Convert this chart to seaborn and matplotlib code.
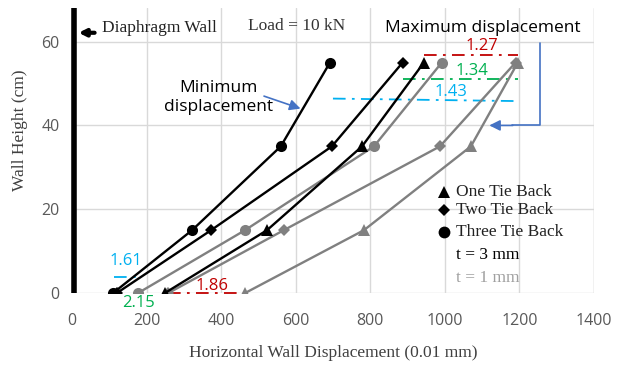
import matplotlib
matplotlib.use("Agg")
import matplotlib.pyplot as plt
import seaborn as sns
import pandas as pd

# Wall height levels (cm) shared by every series
heights = [0, 15, 35, 55]

# Horizontal displacement (0.01 mm), stiffer wall t = 3 mm
one_tie_t3 = [249, 523, 778, 944]
two_tie_t3 = [120, 373, 697, 887]
three_tie_t3 = [110, 322, 560, 692]

# Horizontal displacement (0.01 mm), thinner wall t = 1 mm
one_tie_t1 = [464, 783, 1070, 1196]
two_tie_t1 = [258, 568, 987, 1190]
three_tie_t1 = [177, 464, 810, 992]

legend_labels = ["One Tie Back", "Two Tie Back", "Three Tie Back"]
ratio_top = ["1.27", "1.34", "1.43"]
ratio_bottom = ["1.86", "2.15", "1.61"]

x_ticks = [0, 200, 400, 600, 800, 1000, 1200, 1400]
y_ticks = [0, 20, 40, 60]

rows = []
for tie, t3, t1 in zip(legend_labels,
                       [one_tie_t3, two_tie_t3, three_tie_t3],
                       [one_tie_t1, two_tie_t1, three_tie_t1]):
    for xv, yv in zip(t3, heights):
        rows.append({"x": xv, "y": yv, "tie": tie, "t": "t = 3 mm"})
    for xv, yv in zip(t1, heights):
        rows.append({"x": xv, "y": yv, "tie": tie, "t": "t = 1 mm"})
df = pd.DataFrame(rows)

sns.set_theme(style="white")
plt.rcParams["font.family"] = ["Open Sans", "DejaVu Sans"]

fig = plt.figure(figsize=(6.22, 3.65), dpi=100)
ax = fig.add_axes([0.1158, 0.197, 0.839, 0.781])

marker_map = {"One Tie Back": "^", "Two Tie Back": "D", "Three Tie Back": "o"}
size_map = {"One Tie Back": 8, "Two Tie Back": 6, "Three Tie Back": 8}
color_map = {"t = 3 mm": "#000000", "t = 1 mm": "#808080"}

for t in ["t = 1 mm", "t = 3 mm"]:
    for tie in legend_labels:
        sub = df[(df["tie"] == tie) & (df["t"] == t)]
        sns.lineplot(data=sub, x="x", y="y", ax=ax, sort=False, estimator=None,
                     color=color_map[t], marker=marker_map[tie],
                     markersize=size_map[tie], markeredgewidth=0,
                     linewidth=1.7, legend=False, zorder=3)

ax.set_xlim(0, 1400)
ax.set_ylim(0, 68)
ax.set_xticks(x_ticks)
ax.set_yticks(y_ticks)
ax.grid(True, color="#D9D9D9", linewidth=1.0)
ax.set_axisbelow(True)
for s in ax.spines.values():
    s.set_visible(False)
ax.axvline(1400, color="#D9D9D9", linewidth=1.0, zorder=0)
ax.tick_params(axis="x", length=0, labelsize=11.5, labelcolor="#595959", pad=14)
ax.tick_params(axis="y", length=0, labelsize=11.5, labelcolor="#595959", pad=9)

serif = ["Liberation Serif", "DejaVu Serif"]
ax.set_xlabel("Horizontal Wall Displacement (0.01 mm)", fontfamily=serif,
              fontsize=12.5, color="#404040", labelpad=12)
ax.set_ylabel("Wall Height (cm)", fontfamily=serif, fontsize=12.5, color="#404040")
ax.yaxis.set_label_coords(-0.085, 0.57)

# Diaphragm wall drawn as a thick line at the origin
ax.plot([5, 5], [0, 68], color="black", linewidth=4, solid_capstyle="butt",
        zorder=4, clip_on=False)
ax.annotate("", xy=(10, 62.1), xytext=(68, 62.1),
            arrowprops=dict(arrowstyle="-|>", color="black", lw=3,
                            mutation_scale=10))
ax.text(80, 63.3, "Diaphragm Wall", fontfamily=serif, fontsize=12.5,
        color="#222222", va="center", ha="left")
ax.text(603, 63.8, "Load = 10 kN", fontfamily=serif, fontsize=12.5,
        color="#333333", va="center", ha="center")

# Minimum / maximum displacement callouts
ax.text(392, 46.7, "Minimum\ndisplacement", fontsize=12.5, color="black",
        ha="center", va="center", linespacing=1.3)
ax.annotate("", xy=(620, 43.8), xytext=(508, 47.2),
            arrowprops=dict(arrowstyle="-|>", color="#4472C4", lw=1.2,
                            mutation_scale=16))
ax.text(1103, 63.2, "Maximum displacement", fontsize=12.5, color="black",
        ha="center", va="center", zorder=5)
ax.plot([1255, 1255, 1180], [59.6, 40, 40], color="#4472C4", lw=1.2, zorder=5)
ax.annotate("", xy=(1112, 40), xytext=(1190, 40),
            arrowprops=dict(arrowstyle="-|>", color="#4472C4", lw=1.2,
                            mutation_scale=16))

# Ratio guides between t = 1 mm and t = 3 mm
dashdot = (0, (7, 3.5, 1.5, 3.5))
red, green, cyan = "#C00000", "#00B050", "#00B0F0"

ax.plot([one_tie_t3[-1], one_tie_t1[-1]], [56.7, 56.7], color=red, lw=1.3, ls=dashdot, zorder=2)
ax.text(1100, 59.0, ratio_top[0], color=red, fontsize=12, ha="center", va="center")
ax.plot([two_tie_t3[-1], one_tie_t1[-1]], [51.0, 51.0], color=green, lw=1.3, ls=dashdot, zorder=2)
ax.text(1072, 52.9, ratio_top[1], color=green, fontsize=12, ha="center", va="center")
ax.plot([700, one_tie_t1[-1]], [46.4, 45.8], color=cyan, lw=1.3, ls=dashdot, zorder=2)
ax.text(1016, 47.9, ratio_top[2], color=cyan, fontsize=12, ha="center", va="center")

ax.plot([two_tie_t1[0], one_tie_t1[0]], [0.1, 0.1], color=red, lw=1.3, ls=dashdot,
        zorder=2, clip_on=False)
ax.text(375, 1.6, ratio_bottom[0], color=red, fontsize=12, ha="center", va="center")
ax.text(178, -2.4, ratio_bottom[1], color=green, fontsize=12, ha="center", va="center")
ax.plot([113, 183], [3.8, 3.8], color=cyan, lw=1.3, ls=dashdot, zorder=2)
ax.text(145, 7.6, ratio_bottom[2], color=cyan, fontsize=12, ha="center", va="center")

# Marker / thickness key
key_y = [24.0, 19.8, 14.5]
for lab, yy in zip(legend_labels, key_y):
    ax.plot([997], [yy], marker=marker_map[lab], color="black",
            markersize=size_map[lab] + 0.5, markeredgewidth=0, zorder=5)
    ax.text(1030, yy, lab, fontfamily=serif, fontsize=12.5, color="#222222",
            ha="left", va="center")
ax.text(1030, 9.0, "t = 3 mm", fontfamily=serif, fontsize=12.5, color="black",
        ha="left", va="center")
ax.text(1030, 3.6, "t = 1 mm", fontfamily=serif, fontsize=12.5, color="#A0A0A0",
        ha="left", va="center")

fig.savefig("out.png", dpi=100)
